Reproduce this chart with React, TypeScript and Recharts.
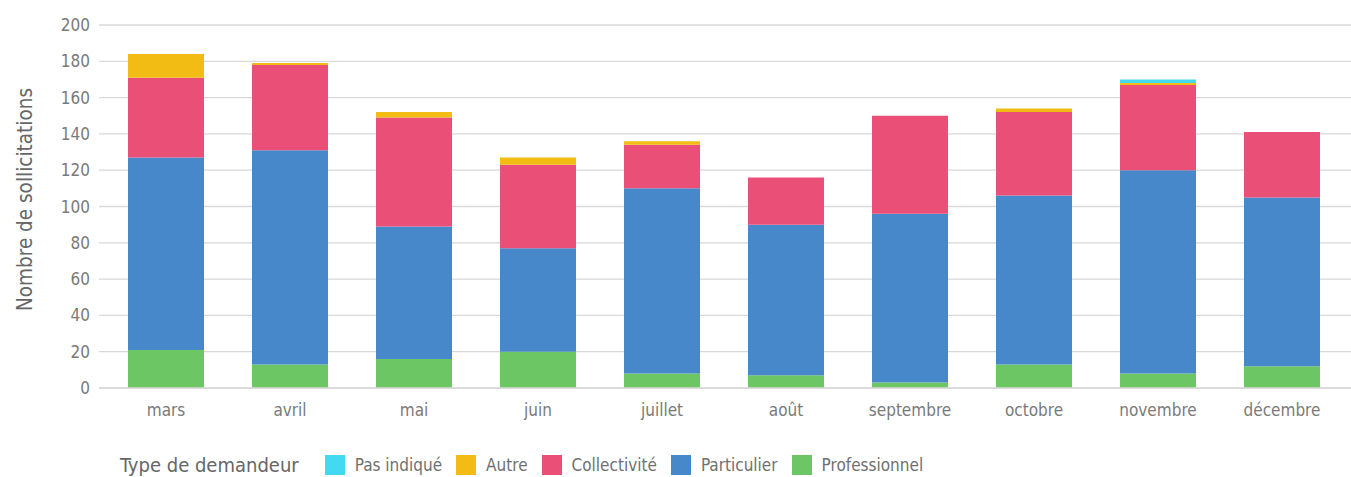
import React from 'react';
import { BarChart, Bar, XAxis, YAxis, CartesianGrid, Legend } from 'recharts';

const months = ['mars', 'avril', 'mai', 'juin', 'juillet', 'août', 'septembre', 'octobre', 'novembre', 'décembre'];
const professionnel = [21, 13, 16, 20, 8, 7, 3, 13, 8, 12];
const particulier = [106, 118, 73, 57, 102, 83, 93, 93, 112, 93];
const collectivite = [44, 47, 60, 46, 24, 26, 54, 46, 47, 36];
const autre = [13, 1, 3, 4, 2, 0, 0, 2, 1, 0];
const pasIndique = [0, 0, 0, 0, 0, 0, 0, 0, 2, 0];
const yTicks = [0, 20, 40, 60, 80, 100, 120, 140, 160, 180, 200];

const seriesNames = ['Professionnel', 'Particulier', 'Collectivité', 'Autre', 'Pas indiqué'];
const seriesKeys = ['professionnel', 'particulier', 'collectivite', 'autre', 'pasIndique'];
const seriesColors = ['#6DC664', '#4788CB', '#EA5077', '#F2BC14', '#43D9F0'];

const data = months.map((m, i) => ({
  month: m,
  professionnel: professionnel[i],
  particulier: particulier[i],
  collectivite: collectivite[i],
  autre: autre[i],
  pasIndique: pasIndique[i],
}));

const FONT = '"DejaVu Sans", sans-serif';
const STRETCH = 'condensed';

const YLabel = (props: any) => {
  const vb = props.viewBox || {};
  const cy = (vb.y ?? 25) + (vb.height ?? 363) / 2 - 7;
  const cx = 25;
  return (
    <text
      x={cx}
      y={cy}
      transform={`rotate(-90, ${cx}, ${cy})`}
      textAnchor="middle"
      dominantBaseline="central"
      fill="#666666"
      fontSize={20.5}
      fontFamily={FONT}
      style={{ fontStretch: STRETCH }}
    >
      Nombre de sollicitations
    </text>
  );
};

const LegendContent = () => {
  const order = [4, 3, 2, 1, 0];
  return (
    <div style={{ display: 'flex', alignItems: 'center', fontFamily: FONT, fontStretch: STRETCH, paddingLeft: 120 }}>
      <span style={{ fontSize: 20, color: '#666666', marginRight: 26 }}>Type de demandeur</span>
      {order.map((i) => (
        <span key={seriesKeys[i]} style={{ display: 'flex', alignItems: 'center', marginRight: 14 }}>
          <span style={{ display: 'inline-block', width: 20, height: 20, background: seriesColors[i], marginRight: 10 }} />
          <span style={{ fontSize: 17, color: '#707070' }}>{seriesNames[i]}</span>
        </span>
      ))}
    </div>
  );
};

export default function App() {
  return (
    <div style={{ position: 'absolute', left: 0, top: 0, width: 1351, height: 477, background: '#fff' }}>
      <BarChart
        width={1351}
        height={477}
        data={data}
        margin={{ top: 25, right: 0, left: 0, bottom: 0 }}
        barSize={76}
      >
        <CartesianGrid vertical={false} stroke="#d9d9d9" strokeWidth={1.3} />
        <XAxis
          dataKey="month"
          height={89}
          padding={{ left: 5, right: 7 }}
          tickLine={false}
          axisLine={{ stroke: '#d9d9d9', strokeWidth: 1.3 }}
          tickSize={0}
          tickMargin={16}
          tick={{ fill: '#7a7a7a', fontSize: 17, fontFamily: FONT, style: { fontStretch: STRETCH } }}
          interval={0}
        />
        <YAxis
          width={99}
          domain={[0, 200]}
          ticks={yTicks}
          tickLine={false}
          axisLine={false}
          tickSize={0}
          tickMargin={9}
          tick={{ fill: '#7a7a7a', fontSize: 17, fontFamily: FONT, style: { fontStretch: STRETCH } }}
          label={<YLabel />}
        />
        {seriesKeys.map((k, i) => (
          <Bar key={k} dataKey={k} name={seriesNames[i]} stackId="a" fill={seriesColors[i]} isAnimationActive={false} />
        ))}
        <Legend
          layout="horizontal"
          verticalAlign="middle"
          align="center"
          content={<LegendContent />}
          wrapperStyle={{ top: 453, left: 0, width: 1351 }}
        />
      </BarChart>
    </div>
  );
}
